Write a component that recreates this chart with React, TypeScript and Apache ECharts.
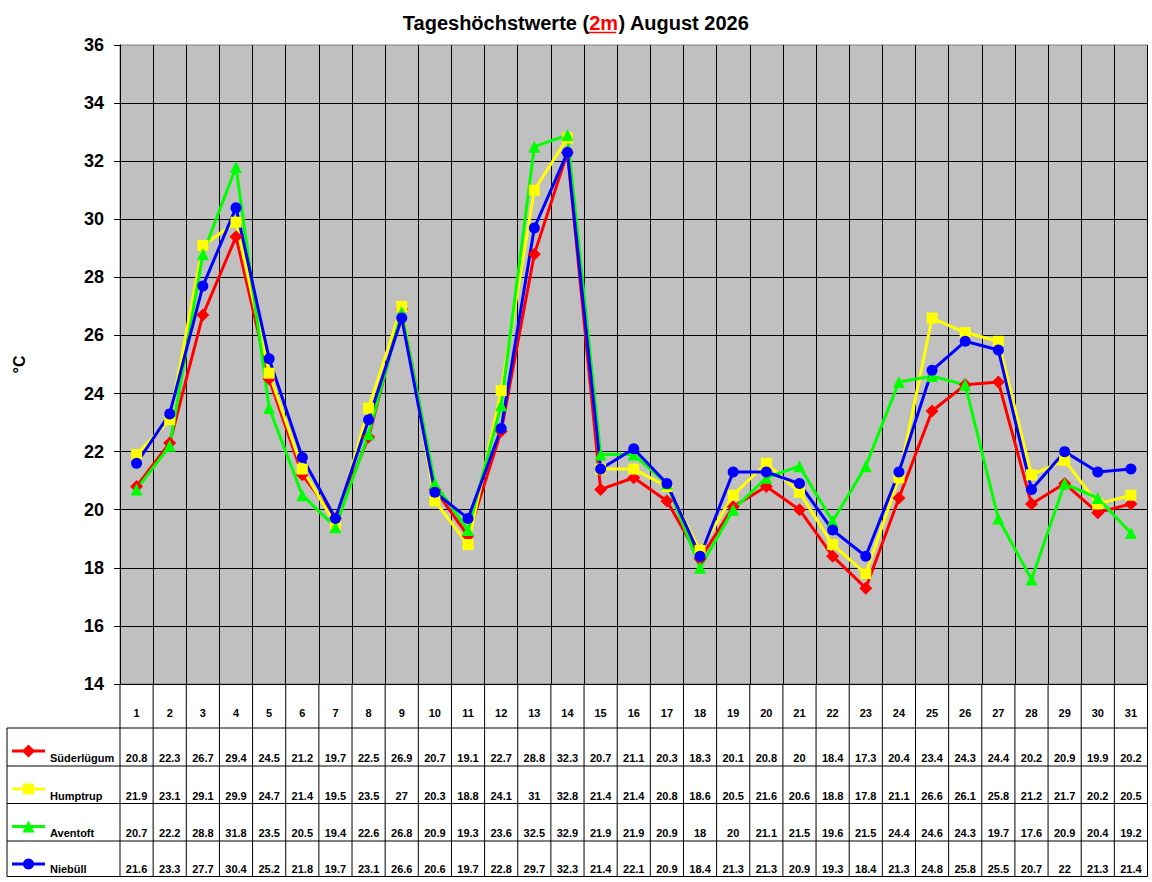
import React, { useEffect, useRef } from 'react';
import * as echarts from 'echarts';

const days = Array.from({ length: 31 }, (_, i) => String(i + 1));

const suederluegum = [20.8, 22.3, 26.7, 29.4, 24.5, 21.2, 19.7, 22.5, 26.9, 20.7, 19.1, 22.7, 28.8, 32.3, 20.7, 21.1, 20.3, 18.3, 20.1, 20.8, 20, 18.4, 17.3, 20.4, 23.4, 24.3, 24.4, 20.2, 20.9, 19.9, 20.2];
const humptrup = [21.9, 23.1, 29.1, 29.9, 24.7, 21.4, 19.5, 23.5, 27, 20.3, 18.8, 24.1, 31, 32.8, 21.4, 21.4, 20.8, 18.6, 20.5, 21.6, 20.6, 18.8, 17.8, 21.1, 26.6, 26.1, 25.8, 21.2, 21.7, 20.2, 20.5];
const aventoft = [20.7, 22.2, 28.8, 31.8, 23.5, 20.5, 19.4, 22.6, 26.8, 20.9, 19.3, 23.6, 32.5, 32.9, 21.9, 21.9, 20.9, 18, 20, 21.1, 21.5, 19.6, 21.5, 24.4, 24.6, 24.3, 19.7, 17.6, 20.9, 20.4, 19.2];
const niebuell = [21.6, 23.3, 27.7, 30.4, 25.2, 21.8, 19.7, 23.1, 26.6, 20.6, 19.7, 22.8, 29.7, 32.3, 21.4, 22.1, 20.9, 18.4, 21.3, 21.3, 20.9, 19.3, 18.4, 21.3, 24.8, 25.8, 25.5, 20.7, 22, 21.3, 21.4];

const stations = [
  { name: 'Süderlügum', data: suederluegum, color: '#FF0000', symbol: 'diamond', size: 13 },
  { name: 'Humptrup', data: humptrup, color: '#FFFF00', symbol: 'rect', size: 11 },
  { name: 'Aventoft', data: aventoft, color: '#00FF00', symbol: 'triangle', size: 12 },
  { name: 'Niebüll', data: niebuell, color: '#0000FF', symbol: 'circle', size: 11 },
];

const FONT = '"Liberation Sans", Arial, sans-serif';
const W = 1152;
const H = 882;
const PLOT_L = 120;
const PLOT_R = 1147.5;
const PLOT_T = 45;
const PLOT_B = 684;
const TABLE_L = 7;
const ROW_LINES = [728, 766, 803.5, 841, 876.5];

export default function App() {
  const elRef = useRef<HTMLDivElement>(null);

  useEffect(() => {
    document.body.style.margin = '0';
    if (!elRef.current) return;
    const chart = echarts.init(elRef.current, null, { renderer: 'svg' });

    chart.setOption({
      animation: false,
      backgroundColor: '#ffffff',
      title: {
        text: '{a|Tageshöchstwerte (}{b|2m}{a|) August 2026}',
        left: 'center',
        top: 8,
        textStyle: {
          rich: {
            a: { fontFamily: FONT, fontWeight: 'bold', fontSize: 20, color: '#000' },
            b: { fontFamily: FONT, fontWeight: 'bold', fontSize: 20, color: '#FF0000' },
          },
        },
      },
      grid: {
        left: PLOT_L,
        top: PLOT_T,
        width: PLOT_R - PLOT_L,
        height: PLOT_B - PLOT_T,
        show: true,
        backgroundColor: '#C0C0C0',
        borderColor: '#808080',
        borderWidth: 1,
      },
      xAxis: {
        type: 'category',
        data: days,
        boundaryGap: true,
        axisLine: { show: true, lineStyle: { color: '#000', width: 1 } },
        axisTick: { show: false },
        axisLabel: {
          interval: 0,
          margin: 23,
          fontFamily: FONT,
          fontWeight: 'bold',
          fontSize: 11,
          color: '#000',
        },
        splitLine: { show: true, interval: 0, lineStyle: { color: '#000', width: 1 } },
      },
      yAxis: {
        type: 'value',
        min: 14,
        max: 36,
        interval: 2,
        name: '°C',
        nameLocation: 'middle',
        nameRotate: 90,
        nameGap: 93,
        nameTextStyle: { fontFamily: FONT, fontWeight: 'bold', fontSize: 16, color: '#000' },
        axisLine: { show: true, lineStyle: { color: '#000', width: 1 } },
        axisTick: { show: true, inside: false, length: 6, lineStyle: { color: '#000' } },
        axisLabel: {
          margin: 16,
          fontFamily: FONT,
          fontWeight: 'bold',
          fontSize: 18,
          color: '#000',
        },
        splitLine: { show: true, showMaxLine: false, lineStyle: { color: '#000', width: 1 } },
      },
      series: stations.map((s) => ({
        type: 'line',
        name: s.name,
        data: s.data,
        symbol: s.symbol,
        symbolSize: s.size,
        showAllSymbol: true,
        lineStyle: { color: s.color, width: 3 },
        itemStyle: { color: s.color },
      })),
    });

    // data table under the plot
    const graphic: any[] = [];
    const colW = (PLOT_R - PLOT_L) / days.length;
    const colEdges = days.map((_, i) => (chart.convertToPixel({ xAxisIndex: 0 }, i) as number) - colW / 2);
    colEdges.push(PLOT_R);

    colEdges.forEach((x) => {
      graphic.push({
        type: 'line',
        shape: { x1: x, y1: PLOT_B, x2: x, y2: ROW_LINES[ROW_LINES.length - 1] },
        style: { stroke: '#000', lineWidth: 1 },
      });
    });
    graphic.push({
      type: 'line',
      shape: { x1: TABLE_L, y1: ROW_LINES[0], x2: TABLE_L, y2: ROW_LINES[ROW_LINES.length - 1] },
      style: { stroke: '#000', lineWidth: 1 },
    });
    ROW_LINES.forEach((y) => {
      graphic.push({
        type: 'line',
        shape: { x1: TABLE_L, y1: y, x2: PLOT_R, y2: y },
        style: { stroke: '#000', lineWidth: 1 },
      });
    });

    stations.forEach((s, r) => {
      const top = ROW_LINES[r];
      const bottom = ROW_LINES[r + 1];
      const ly = top + 23;
      graphic.push({
        type: 'line',
        shape: { x1: 12, y1: ly, x2: 45, y2: ly },
        style: { stroke: s.color, lineWidth: 3 },
      });
      if (s.symbol === 'diamond') {
        graphic.push({
          type: 'polygon',
          shape: { points: [[28.5, ly - 6.5], [35, ly], [28.5, ly + 6.5], [22, ly]] },
          style: { fill: s.color },
        });
      } else if (s.symbol === 'rect') {
        graphic.push({ type: 'rect', shape: { x: 23, y: ly - 5.5, width: 11, height: 11 }, style: { fill: s.color } });
      } else if (s.symbol === 'triangle') {
        graphic.push({
          type: 'polygon',
          shape: { points: [[28.5, ly - 6], [34.5, ly + 6], [22.5, ly + 6]] },
          style: { fill: s.color },
        });
      } else {
        graphic.push({ type: 'circle', shape: { cx: 28.5, cy: ly, r: 5.5 }, style: { fill: s.color } });
      }
      graphic.push({
        type: 'text',
        x: 50,
        y: bottom - 8,
        style: {
          text: s.name,
          font: `bold 11px ${FONT}`,
          fill: '#000',
          verticalAlign: 'middle',
        },
      });
      s.data.forEach((v, i) => {
        const cx = chart.convertToPixel({ xAxisIndex: 0 }, i) as number;
        graphic.push({
          type: 'text',
          x: cx,
          y: bottom - 8,
          style: {
            text: String(v),
            font: `bold 11px ${FONT}`,
            fill: '#000',
            align: 'center',
            verticalAlign: 'middle',
          },
        });
      });
    });

    // underline of "2m" in the title
    graphic.push({
      type: 'line',
      shape: { x1: 587, y1: 32.5, x2: 616, y2: 32.5 },
      style: { stroke: '#FF0000', lineWidth: 1.5 },
    });

    chart.setOption({ graphic });

    return () => {
      chart.dispose();
    };
  }, []);

  return <div ref={elRef} style={{ width: W, height: H }} />;
}
